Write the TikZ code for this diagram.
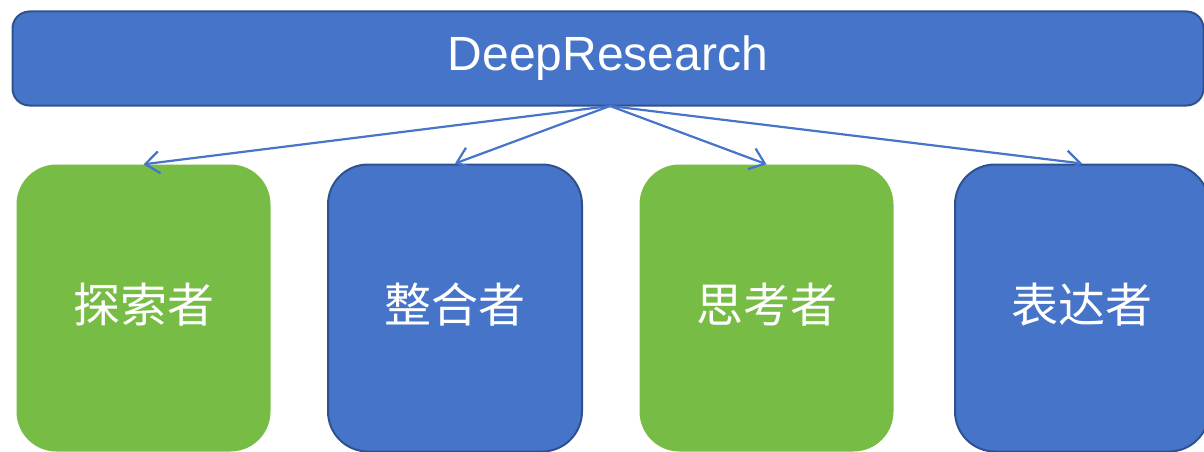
\documentclass[tikz,border=0pt]{standalone}
\usepackage{fontspec}
\setmainfont{Liberation Sans}
\newfontfamily\cjk{Noto Sans CJK SC}
\usetikzlibrary{arrows.meta}
\definecolor{ofblue}{HTML}{4674C9}
\definecolor{ofborder}{HTML}{2F528F}
\definecolor{ofgreen}{HTML}{77BC45}
\tikzset{
  topbar/.style={rectangle, rounded corners=17pt, fill=ofblue, draw=ofborder, line width=2pt,
    minimum width=1191pt, minimum height=94pt, inner sep=0pt, text=white,
    font=\fontsize{48}{52}\selectfont},
  rolebox/.style={rectangle, rounded corners=40pt, minimum width=254pt, minimum height=287pt,
    inner sep=0pt, text=white, font=\cjk\fontsize{46}{50}\selectfont},
  bluebox/.style={rolebox, fill=ofblue, draw=ofborder, line width=2pt},
  greenbox/.style={rolebox, fill=ofgreen},
  rolelabel/.style={text=white, font=\cjk\fontsize{47}{50}\selectfont},
  conn/.style={draw=ofblue, line width=2.2pt, -{Straight Barb[length=14pt,width=22pt]}}
}
\begin{document}
\begin{tikzpicture}[x=1pt,y=-1pt]
\clip (0,0) rectangle (1204,452);
\node[topbar] (top) at (608,58.5) {DeepResearch};
\coordinate (src) at (610,106);
\node[greenbox] (b1) at (143.5,308) {};
\node[bluebox]  (b2) at (455,308) {};
\node[greenbox] (b3) at (766.5,308) {};
\node[bluebox]  (b4) at (1082,308) {};
\node[rolelabel] (t1) at (143.5,305) {探索者};
\node[rolelabel] (t2) at (455,305) {整合者};
\node[rolelabel] (t3) at (766.5,305) {思考者};
\node[rolelabel] (t4) at (1082,305) {表达者};
\draw[conn] (src) -- (b1.north);
\draw[conn] (src) -- (b2.north);
\draw[conn] (src) -- (b3.north);
\draw[conn] (src) -- (b4.north);
\end{tikzpicture}
\end{document}
